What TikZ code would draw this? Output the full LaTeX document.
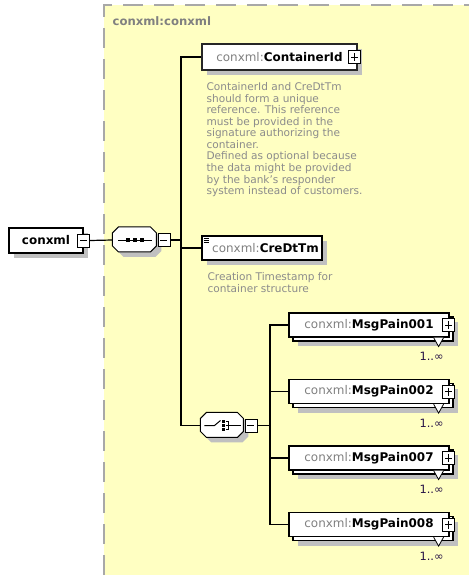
\documentclass[tikz,border=0pt]{standalone}
\usepackage{fontspec}
\setmainfont{DejaVu Sans}
\usetikzlibrary{shadows,calc}
\definecolor{panel}{RGB}{255,255,194}
\definecolor{rim}{RGB}{168,168,168}
\definecolor{pfx}{RGB}{128,128,128}
\definecolor{note}{RGB}{140,140,140}
\definecolor{occ}{RGB}{40,20,70}
\definecolor{shade}{RGB}{192,192,192}
\newcommand{\el}[1]{\textcolor{pfx}{conxml:}\textbf{#1}}
\begin{document}
\begin{tikzpicture}[x=1bp, y=-1bp, line width=1.2bp,
  box/.style={draw, fill=white, line width=1.2bp, inner sep=0pt, minimum height=24bp, font=\fontsize{12}{14}\selectfont},
  elem/.style={box, drop shadow={shadow xshift=5bp, shadow yshift=-5bp, fill=shade, opacity=1}},
  minus/.style={draw, fill=white, line width=0.7bp, minimum width=12bp, minimum height=13bp, inner sep=0pt,
    path picture={\draw[line width=0.8bp] ([xshift=2.5bp]path picture bounding box.west) -- ([xshift=-2.5bp]path picture bounding box.east);}},
  plus/.style={minus, path picture={\draw[line width=0.8bp] ([xshift=2.5bp]path picture bounding box.west) -- ([xshift=-2.5bp]path picture bounding box.east);
    \draw[line width=0.8bp] ([yshift=-2.5bp]path picture bounding box.north) -- ([yshift=2.5bp]path picture bounding box.south);}},
  grp/.style={rectangle, minimum width=44bp, minimum height=25bp, inner sep=0pt},
  octo/.style={draw, fill=white, line width=1bp, drop shadow={shadow xshift=5bp, shadow yshift=-5bp, fill=shade, opacity=1}},
  notes/.style={text=note, font=\fontsize{10.6}{11.6}\selectfont, align=left, inner sep=0pt, anchor=north west}]
  \useasboundingbox (0,0) rectangle (469,575);
  % type panel
  \fill[panel] (104,5) rectangle (470,576);
  \draw[rim, line width=2bp, dash pattern=on 20bp off 11bp] (104,575) -- (104,5) -- (469,5);
  \node[anchor=west, text=pfx, inner sep=0pt, font=\bfseries\fontsize{11.7}{14}\selectfont] (title) at (112,21) {conxml:conxml};

  \node[elem, minimum width=74bp, minimum height=25bp, font=\bfseries\fontsize{12}{14}\selectfont] (root) at (46,240.5) {conxml};
  \node[minus] (rootm) at (root.east) {};

  % sequence
  \node[grp] (seq) at (135,240) {};
  \path[octo] (seq.north west) ++(6,0) -- ++(32,0) -- ++(6,6) -- ++(0,13) -- ++(-6,6) -- ++(-32,0) -- ++(-6,-6) -- ++(0,-13) -- cycle;
  \node[minus, anchor=west] (seqm) at (seq.east) {};
  \draw[line width=1bp] ([xshift=6bp]seq.west) -- ([xshift=-6bp]seq.east);
  \foreach \dx in {-7,0,7}
    \fill ([xshift=\dx bp]seq.center) +(-1.7,-1.7) rectangle +(1.7,1.7);
  \coordinate (bus1) at (181,240);
  \draw (rootm.east) -- (seq.west);
  \draw (seqm.east) -- (bus1);

  \node[elem, draw=black!85, line width=1.1bp, minimum width=155bp, minimum height=26bp] (cid) at (279.5,57) {\el{ContainerId}};
  \node[plus] (cidp) at ([xshift=-3bp]cid.east) {};
  \node[notes] (cidnote) at (206,82) {ContainerId and CreDtTm\\should form a unique\\reference. This reference\\must be provided in the\\signature authorizing the\\container.\\Defined as optional because\\the data might be provided\\by the bank's responder\\system instead of customers.};
  \draw (bus1) |- (cid.west);

  \node[elem, minimum width=120bp] (cre) at (262,248) {\hspace{7bp}\el{CreDtTm}};
  \foreach \dy in {2.5,4.5,6.5}
    \draw[line width=0.8bp] ([shift={(2.5,\dy)}]cre.north west) -- ++(5,0);
  \node[notes] (crenote) at (207,272) {Creation Timestamp for\\container structure};
  \draw (bus1) |- (cre.west);

  % choice
  \node[grp, minimum width=43bp] (chc) at (222.5,425.5) {};
  \path[octo] (chc.north west) ++(6,0) -- ++(31,0) -- ++(6,6) -- ++(0,13) -- ++(-6,6) -- ++(-31,0) -- ++(-6,-6) -- ++(0,-13) -- cycle;
  \node[minus, anchor=west] (chcm) at (chc.east) {};
  \draw[line width=1bp] ([xshift=4bp]chc.west) -- ([xshift=-8bp]chc.center) -- ([shift={(-2,-5)}]chc.center);
  \foreach \dy in {-4,0,4}
    \fill ([shift={(1,\dy)}]chc.center) +(-1.4,-1.4) rectangle +(1.4,1.4);
  \draw[line width=1bp] ([shift={(3,-4)}]chc.center) -- ++(3,0) -- ++(0,8) -- ++(-3,0)
    ([shift={(3,0)}]chc.center) -- ([xshift=-4bp]chc.east);
  \coordinate (bus2) at (270,425.5);
  \draw (bus1) |- (chc.west);
  \draw (chcm.east) -- (bus2);

  \foreach \nm/\yy in {001/325, 002/391.5, 007/458, 008/524.5} {
    \node[elem, minimum width=160bp] (p\nm b) at (373,\yy+4) {};
    \node[box, minimum width=160bp] (p\nm) at (369,\yy) {\el{MsgPain\nm}};
    \node[plus] (p\nm p) at ([xshift=-1bp]p\nm.east) {};
    \draw[fill=white, line width=0.8bp] ([shift={(-20,-4)}]p\nm b.south east) -- ([shift={(-15,5)}]p\nm b.south east) -- ([shift={(-10,-4)}]p\nm b.south east);
    \node[text=occ, inner sep=0pt, font=\fontsize{11.5}{13}\selectfont] (p\nm o) at ([shift={(-22,15)}]p\nm b.south east) {1..∞};
    \draw (bus2) |- (p\nm.west);
  }
\end{tikzpicture}
\end{document}
